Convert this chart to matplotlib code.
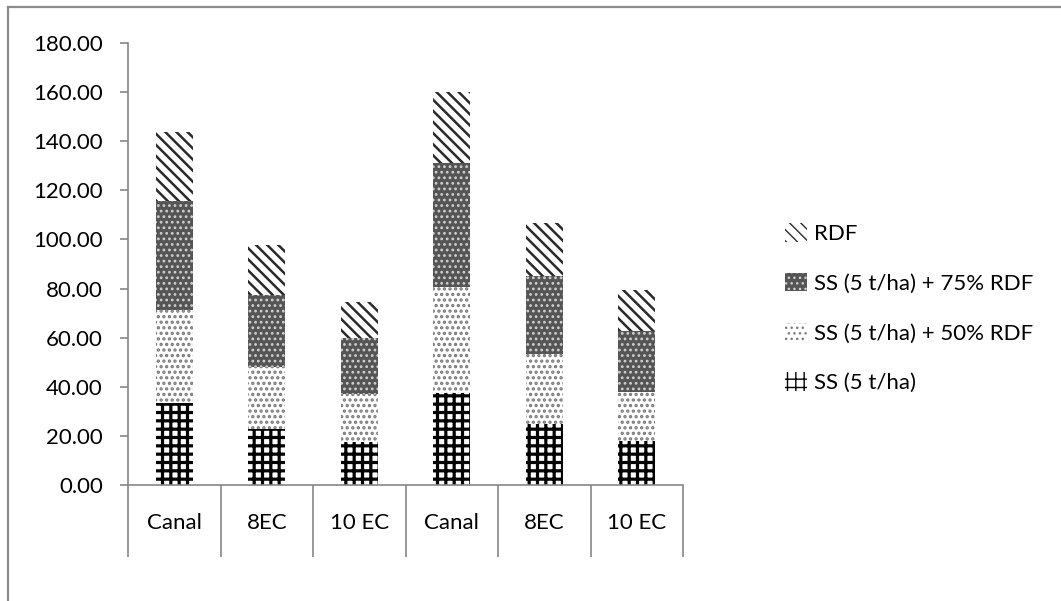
import numpy as np
import matplotlib
matplotlib.use('Agg')
import matplotlib.pyplot as plt
from matplotlib.patches import Patch
from matplotlib.lines import Line2D

plt.rcParams['font.family'] = ['Lato', 'DejaVu Sans']

# data
categories = ['Canal', '8EC', '10 EC', 'Canal', '8EC', '10 EC']
ss = [33.2, 23.0, 17.7, 37.3, 24.7, 17.8]
ss50 = [38.1, 25.0, 19.5, 43.2, 28.6, 20.1]
ss75 = [44.4, 29.4, 22.7, 50.7, 31.7, 24.8]
rdf = [28.1, 20.4, 14.6, 28.9, 21.6, 16.7]

series = [
    ('SS (5 t/ha)', ss, 'white', 'black', '++', 2.3),
    ('SS (5 t/ha) + 50% RDF', ss50, 'white', '#7a7a7a', '...', 1.6),
    ('SS (5 t/ha) + 75% RDF', ss75, '#555555', '#d0d0d0', '...', 1.2),
    ('RDF', rdf, 'white', '#2a2a2a', '\\\\\\', 1.8),
]

fig = plt.figure(figsize=(10.61, 6.01), dpi=100)
ax = fig.add_axes([128/1061, 1-485/601, 555/1061, 442/601])

x = np.arange(len(categories))
bottom = np.zeros(len(categories))
handles = []
for name, vals, fc, hc, hatch, hlw in series:
    bars = ax.bar(x, vals, 0.4, bottom=bottom, color=fc, edgecolor=hc,
                  hatch=hatch, linewidth=0)
    for b in bars:
        try:
            b.set_hatch_linewidth(hlw)
        except AttributeError:
            pass
    bottom += np.array(vals)
    h = Patch(facecolor=fc, edgecolor=hc, hatch=hatch, linewidth=0)
    try:
        h.set_hatch_linewidth(hlw)
    except AttributeError:
        pass
    handles.append((h, name))

ax.set_xlim(-0.5, len(categories) - 0.5)
ax.set_ylim(0, 180)
ax.set_yticks(np.arange(0, 181, 20))
ax.set_yticklabels([f'{v:.2f}' for v in np.arange(0, 181, 20)])

gray = '#868686'
for s in ['top', 'right']:
    ax.spines[s].set_visible(False)
ax.spines['left'].set_color(gray)
ax.spines['bottom'].set_color(gray)
ax.spines['left'].set_linewidth(1.2)
ax.spines['bottom'].set_linewidth(1.2)

ax.tick_params(axis='y', colors=gray, length=6, width=1.2, pad=12,
               labelsize=16, labelcolor='black')
ax.set_xticks(x)
ax.set_xticklabels(categories)
ax.tick_params(axis='x', which='major', length=0, pad=20, labelsize=16,
               labelcolor='black')
ax.set_xticks(np.arange(-0.5, len(categories)), minor=True)
ax.tick_params(axis='x', which='minor', length=52, width=1.2, colors=gray)

leg = ax.legend([h for h, n in handles[::-1]], [n for h, n in handles[::-1]],
                loc='center left', bbox_to_anchor=(1.148, 0.40), frameon=False,
                fontsize=16, handlelength=1.0, handleheight=0.9,
                handletextpad=0.3, labelspacing=1.3)

# outer chart frame (right and bottom sides cut off in the original)
fig.add_artist(Line2D([8/1061, 8/1061], [0, 1-7/601], color='#8c8c8c', lw=1.6))
fig.add_artist(Line2D([8/1061, 1], [1-7/601, 1-7/601], color='#8c8c8c', lw=1.6))

fig.savefig('out.png', dpi=100)
